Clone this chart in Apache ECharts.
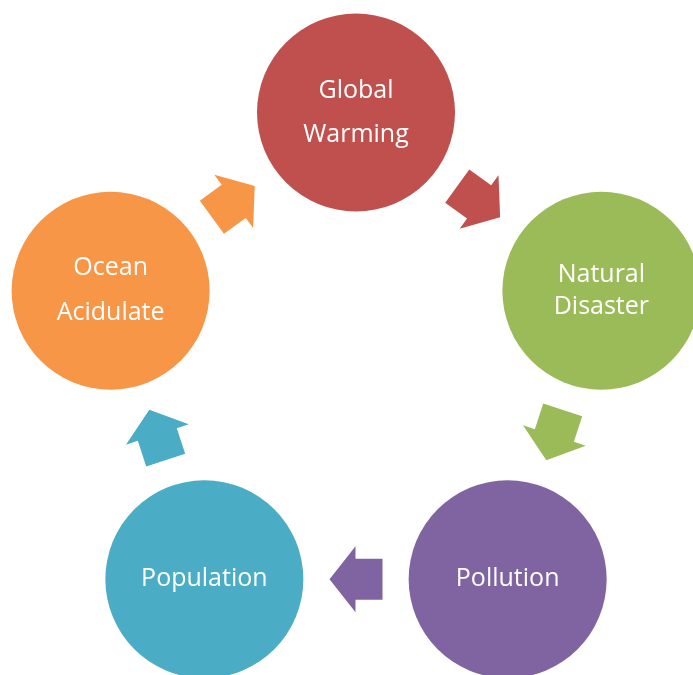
<!DOCTYPE html>
<html>
<head>
<meta charset="utf-8">
<script src="https://cdn.jsdelivr.net/npm/echarts@6/dist/echarts.min.js"></script>
<style>html,body{margin:0;padding:0;background:#fff;}#c{width:693px;height:675px;}</style>
</head>
<body>
<div id="c"></div>
<script>
// Cycle steps (clockwise from the top)
var steps = ['Global\nWarming', 'Natural\nDisaster', 'Pollution', 'Population', 'Ocean\nAcidulate'];
var stepColors = ['#C0504D', '#9BBB59', '#8064A2', '#4BACC6', '#F79646'];
var stepLineHeights = [44, 32, 30, 30, 45];

var chart = echarts.init(document.getElementById('c'));
var R = 258;
var n = steps.length;
var stepAngle = 360 / n;

var circleData = steps.map(function (s, i) {
  return {
    value: [R, 90 - i * stepAngle],
    name: s,
    itemStyle: { color: stepColors[i], opacity: 1 },
    label: { lineHeight: stepLineHeights[i] }
  };
});

var arrowR = R * Math.cos(Math.PI / n);
var arrowData = steps.map(function (s, i) {
  var a = 90 - i * stepAngle - stepAngle / 2;
  return {
    value: [arrowR, a],
    symbolRotate: a - 90,
    itemStyle: { color: stepColors[i], opacity: 1 }
  };
});

chart.setOption({
  animation: false,
  polar: { center: [356, 370.5], radius: R },
  angleAxis: { type: 'value', min: 0, max: 360, startAngle: 0, clockwise: false, show: false },
  radiusAxis: { type: 'value', min: 0, max: R, show: false },
  series: [
    {
      type: 'scatter',
      coordinateSystem: 'polar',
      symbol: 'path://M0,12.5 L27,12.5 L27,0 L53,33 L27,66 L27,53.5 L0,53.5 Z',
      symbolSize: [53, 66],
      itemStyle: { opacity: 1 },
      data: arrowData,
      silent: true
    },
    {
      type: 'scatter',
      coordinateSystem: 'polar',
      symbol: 'circle',
      symbolSize: 198,
      itemStyle: { opacity: 1 },
      data: circleData,
      silent: true,
      label: {
        show: true,
        position: 'inside',
        formatter: '{b}',
        color: '#ffffff',
        opacity: 1,
        textBorderWidth: 0,
        fontFamily: 'Open Sans',
        fontSize: 25
      }
    }
  ]
});
</script>
</body>
</html>
